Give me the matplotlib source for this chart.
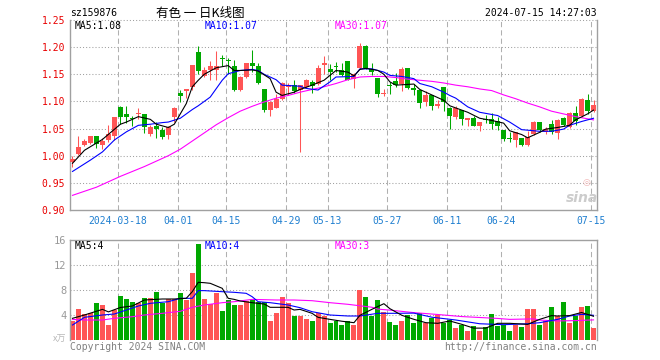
import matplotlib
matplotlib.use("Agg")
import matplotlib.pyplot as plt
import numpy as np
import pandas as pd

# trading days shown (exchange holidays removed)
holidays = ["2024-04-04", "2024-04-05", "2024-05-01", "2024-05-02", "2024-05-03", "2024-06-10"]
days = pd.bdate_range("2024-03-06", "2024-07-15")
days = days[~days.isin(pd.to_datetime(holidays))]

opens = [0.988, 1.003, 1.019, 1.024, 1.036, 1.020, 1.0288, 1.036, 1.090, 1.0765,
         1.069, 1.0765, 1.0765, 1.0398, 1.054, 1.048, 1.0373, 1.0704, 1.1156, 1.120,
         1.1266, 1.1914, 1.146, 1.157, 1.158, 1.179, 1.177, 1.166, 1.1217, 1.145,
         1.1706, 1.166, 1.1223, 1.0838, 1.0887, 1.1052, 1.126, 1.1297, 1.1205, 1.1266,
         1.1358, 1.1315, 1.1676, 1.1596, 1.1645, 1.157, 1.174, 1.142, 1.1615, 1.2018,
         1.160, 1.1437, 1.113, 1.130, 1.1376, 1.1327, 1.1615, 1.1254, 1.1205, 1.099,
         1.1113, 1.0918, 1.1266, 1.0887, 1.0704, 1.0843, 1.066, 1.070, 1.0555, 1.067,
         1.0675, 1.0633, 1.0476, 1.0320, 1.0284, 1.0326, 1.0193, 1.0404, 1.0615, 1.0446,
         1.0585, 1.0422, 1.0687, 1.0524, 1.0783, 1.0735, 1.1024, 1.083]
highs = [0.9994, 1.0367, 1.030, 1.037, 1.037, 1.032, 1.057, 1.0716, 1.091, 1.091,
         1.074, 1.088, 1.077, 1.056, 1.062, 1.053, 1.0545, 1.089, 1.1205, 1.1223,
         1.168, 1.203, 1.163, 1.174, 1.193, 1.186, 1.180, 1.1755, 1.146, 1.171,
         1.195, 1.170, 1.1223, 1.100, 1.114, 1.136, 1.134, 1.140, 1.131, 1.141,
         1.1395, 1.167, 1.183, 1.169, 1.1725, 1.1706, 1.175, 1.153, 1.2073, 1.2037,
         1.1706, 1.144, 1.123, 1.136, 1.152, 1.163, 1.1615, 1.133, 1.121, 1.119,
         1.112, 1.102, 1.127, 1.089, 1.091, 1.085, 1.069, 1.0735, 1.063, 1.075,
         1.0795, 1.0705, 1.048, 1.0434, 1.0434, 1.033, 1.0464, 1.0645, 1.063, 1.0536,
         1.0657, 1.067, 1.072, 1.0807, 1.0916, 1.1054, 1.1145, 1.1026]
lows = [0.9786, 1.001, 1.017, 1.022, 1.0134, 1.0125, 1.026, 1.029, 1.059, 1.0606,
        1.054, 1.068, 1.041, 1.037, 1.032, 1.030, 1.030, 1.0624, 1.099, 1.107,
        1.1217, 1.151, 1.145, 1.139, 1.139, 1.165, 1.150, 1.119, 1.120, 1.143,
        1.154, 1.133, 1.0807, 1.0728, 1.087, 1.1034, 1.111, 1.115, 1.007, 1.125,
        1.1156, 1.130, 1.151, 1.139, 1.154, 1.146, 1.139, 1.125, 1.160, 1.160,
        1.148, 1.108, 1.1107, 1.113, 1.1266, 1.119, 1.122, 1.111, 1.087, 1.0918,
        1.0838, 1.088, 1.0826, 1.050, 1.068, 1.0567, 1.0555, 1.0555, 1.0464, 1.061,
        1.0494, 1.048, 1.0266, 1.0254, 1.0163, 1.0175, 1.018, 1.0386, 1.0434, 1.040,
        1.040, 1.0314, 1.0543, 1.0506, 1.0567, 1.072, 1.0765, 1.080]
closes = [0.9945, 1.0165, 1.0275, 1.036, 1.0213, 1.0275, 1.0396, 1.0716, 1.0716, 1.0704,
          1.067, 1.078, 1.053, 1.053, 1.050, 1.035, 1.052, 1.0887, 1.1095, 1.1223,
          1.1676, 1.156, 1.158, 1.165, 1.1645, 1.1775, 1.175, 1.1205, 1.145, 1.1706,
          1.1657, 1.1345, 1.0838, 1.099, 1.1052, 1.134, 1.131, 1.119, 1.1297, 1.140,
          1.128, 1.162, 1.1706, 1.1547, 1.1633, 1.148, 1.140, 1.151, 1.2018, 1.162,
          1.154, 1.1144, 1.115, 1.128, 1.1297, 1.160, 1.1254, 1.1217, 1.0979, 1.1113,
          1.0918, 1.096, 1.099, 1.0734, 1.0887, 1.0675, 1.069, 1.0555, 1.0627, 1.066,
          1.0585, 1.0555, 1.0314, 1.0314, 1.0434, 1.0193, 1.0344, 1.0615, 1.0482, 1.0494,
          1.0446, 1.0663, 1.0567, 1.0795, 1.0645, 1.1036, 1.0825, 1.093]
volumes = [3.0, 5.0, 4.15, 4.27, 5.97, 5.6, 2.45, 4.8, 7.05, 6.6,
           6.1, 5.97, 6.72, 6.72, 7.68, 6.0, 6.6, 6.5, 7.5, 6.45,
           10.77, 15.36, 6.58, 5.73, 7.5, 4.64, 6.4, 5.6, 5.6, 6.22,
           6.35, 6.08, 6.08, 3.09, 4.32, 6.88, 5.97, 3.9, 3.9, 3.3,
           3.09, 4.4, 3.84, 2.77, 3.04, 2.45, 3.04, 2.45, 7.95, 6.88,
           3.84, 6.4, 4.48, 2.88, 2.45, 3.04, 4.0, 2.67, 4.27, 2.72,
           3.57, 3.95, 2.72, 3.2, 1.97, 2.4, 1.44, 2.24, 1.44, 2.13,
           4.1, 2.24, 2.35, 1.44, 2.35, 2.13, 5.0, 5.0, 2.45, 3.04,
           5.33, 3.84, 6.08, 2.67, 3.84, 5.33, 5.44, 1.97]

# moving average lines (day index, value)
ma5_days = [0, 2, 5, 8, 9, 11, 13, 14, 16, 17, 19, 20, 21, 22, 24, 26, 27, 28, 30, 31,
            33, 34, 35, 37, 38, 40, 42, 43, 44, 46, 47, 48, 49, 51, 52, 53, 54, 57, 58, 60,
            62, 63, 64, 66, 68, 70, 72, 73, 75, 76, 78, 79, 81, 83, 84, 86, 87]
ma5 = [0.986, 1.010, 1.030, 1.058, 1.062, 1.072, 1.067, 1.058, 1.052, 1.058,
       1.096, 1.127, 1.139, 1.150, 1.162, 1.166, 1.157, 1.157, 1.158, 1.156,
       1.142, 1.117, 1.111, 1.117, 1.122, 1.130, 1.139, 1.148, 1.157, 1.154,
       1.147, 1.159, 1.161, 1.157, 1.150, 1.136, 1.130, 1.132, 1.122, 1.112,
       1.102, 1.092, 1.088, 1.080, 1.069, 1.065, 1.060, 1.046, 1.039, 1.033,
       1.043, 1.049, 1.052, 1.056, 1.066, 1.077, 1.084]
ma10_days = [0, 3, 5, 7, 9, 11, 13, 15, 16, 18, 20, 21, 23, 25, 26, 28, 30, 31, 32, 34,
             35, 38, 39, 41, 43, 44, 47, 48, 50, 52, 53, 55, 57, 58, 60, 62, 63, 64, 66, 68,
             71, 73, 75, 77, 78, 80, 82, 83, 85, 87]
ma10 = [0.971, 0.992, 1.007, 1.029, 1.044, 1.056, 1.058, 1.061, 1.062, 1.069,
        1.085, 1.092, 1.108, 1.139, 1.151, 1.157, 1.159, 1.157, 1.150, 1.140,
        1.130, 1.128, 1.124, 1.121, 1.136, 1.145, 1.146, 1.160, 1.160, 1.154,
        1.148, 1.146, 1.142, 1.133, 1.127, 1.117, 1.111, 1.106, 1.090, 1.080,
        1.074, 1.062, 1.048, 1.046, 1.045, 1.045, 1.049, 1.056, 1.063, 1.069]
ma30_days = [0, 4, 8, 12, 16, 18, 20, 22, 24, 26, 28, 30, 32, 34, 36, 38, 40, 42, 44, 46,
             48, 50, 52, 54, 56, 58, 60, 62, 64, 66, 68, 70, 72, 74, 76, 78, 80, 82, 84, 86, 87]
ma30 = [0.927, 0.942, 0.962, 0.980, 1.000, 1.012, 1.027, 1.042, 1.057, 1.070,
        1.082, 1.091, 1.099, 1.106, 1.111, 1.117, 1.122, 1.127, 1.133, 1.140,
        1.145, 1.146, 1.146, 1.144, 1.141, 1.139, 1.137, 1.134, 1.130, 1.127,
        1.123, 1.120, 1.112, 1.105, 1.097, 1.090, 1.082, 1.077, 1.072, 1.068, 1.066]

vma5_days = [0, 2, 5, 6, 8, 10, 12, 15, 17, 19, 20, 21, 22, 23, 25, 26, 27, 28, 30, 32,
             33, 36, 37, 38, 40, 41, 43, 45, 47, 48, 50, 52, 53, 55, 57, 59, 61, 63, 65, 67,
             69, 71, 73, 76, 78, 80, 81, 83, 85, 87]
vma5 = [3.47, 4.0, 4.9, 4.5, 5.2, 5.44, 6.4, 6.56, 6.56, 6.67,
        7.73, 9.23, 9.17, 9.07, 8.27, 6.67, 6.5, 6.24, 5.97, 5.76,
        5.23, 5.23, 4.8, 4.9, 4.27, 3.63, 3.3, 3.0, 2.77, 3.95,
        4.91, 5.81, 5.01, 3.95, 3.31, 2.77, 2.67, 3.04, 2.51, 1.9,
        1.9, 2.67, 2.67, 2.5, 3.3, 3.9, 3.84, 3.9, 4.4, 3.8]
vma10_days = [0, 2, 5, 7, 9, 11, 13, 16, 18, 20, 21, 22, 25, 27, 29, 30, 31, 33, 36, 38,
              40, 43, 46, 48, 51, 54, 57, 60, 64, 68, 72, 76, 78, 81, 83, 85, 87]
vma10 = [2.4, 3.63, 4.0, 4.16, 4.8, 5.44, 5.87, 6.13, 6.67, 6.67,
         7.9, 7.9, 7.73, 7.63, 7.47, 6.93, 6.13, 5.97, 5.6, 5.17,
         4.53, 4.0, 3.84, 3.84, 4.27, 4.27, 4.3, 3.65, 3.2, 2.6,
         2.45, 2.6, 2.77, 3.3, 3.84, 4.1, 3.95]
vma30_days = [0, 2, 5, 7, 10, 12, 15, 18, 20, 22, 25, 27, 30, 34, 37, 40, 43, 46, 50, 51,
              53, 57, 61, 65, 71, 73, 77, 78, 81, 84, 87]
vma30 = [3.3, 3.2, 3.2, 3.47, 3.73, 4.0, 4.27, 4.59, 5.23, 5.6,
         5.97, 6.13, 6.5, 6.4, 6.4, 6.29, 5.97, 5.71, 5.24, 4.94,
         4.78, 4.38, 4.08, 3.75, 3.45, 3.3, 3.38, 3.19, 3.05, 3.1, 3.22]

tick_dates = ["2024-03-18", "2024-04-01", "2024-04-15", "2024-04-29", "2024-05-13",
              "2024-05-27", "2024-06-11", "2024-06-24", "2024-07-15"]
price_ticks = [0.90, 0.95, 1.00, 1.05, 1.10, 1.15, 1.20, 1.25]
vol_ticks = [4, 8, 12, 16]

W, H = 660, 360
UP, DOWN = "#ff5555", "#00a800"
MONO = "DejaVu Sans Mono"
CJK = ["Noto Sans CJK SC", "DejaVu Sans"]
BAR_W = 5 / 6
MID = 2.5 / 6


def px_axes(fig, left, top, right, bottom):
  return fig.add_axes([left / W, 1 - bottom / H, (right - left) / W, (bottom - top) / H])


def ftext(fig, x, y, s, **kw):
  kw.setdefault("family", MONO)
  kw.setdefault("fontsize", 7)
  kw.setdefault("va", "center")
  fig.text(x / W, 1 - y / H, s, **kw)


def frame(ax):
  for side in ["left", "right", "bottom", "top"]:
    ax.spines[side].set_color("#a0a0a0")
    ax.spines[side].set_linewidth(1)


if __name__ == "__main__":
  n = len(days)
  x = np.arange(n)
  o, h, l, c = map(np.array, (opens, highs, lows, closes))
  colors = np.where(c >= o, UP, DOWN)
  tick_idx = [days.get_loc(pd.Timestamp(d)) for d in tick_dates]
  tick_labels = [tick_dates[0]] + [d[5:] for d in tick_dates[1:]]

  fig = plt.figure(figsize=(W / 100, H / 100), dpi=100)
  ax = px_axes(fig, 70, 20, 597, 210)
  vax = px_axes(fig, 70, 240, 597, 340)

  # price panel
  for v in price_ticks[1:]:
    ax.axhline(v, color="#a0a0a0", lw=0.75, ls=(0, (1, 2)), zorder=1, clip_on=False)
  for t in tick_idx:
    ax.axvline(t, color="#b0b0b0", lw=0.75, ls=(0, (5, 3)), zorder=1)
    vax.axvline(t, color="#b0b0b0", lw=0.75, ls=(0, (5, 3)), zorder=1)

  ax.vlines(x + MID, l, h, colors=colors, lw=0.75, zorder=2)
  ax.bar(x, np.maximum(np.abs(c - o), 0.0019), width=BAR_W, bottom=np.minimum(o, c),
         align="edge", color=colors, linewidth=0, zorder=3)
  ax.plot(np.array(ma30_days) + MID, ma30, color="#ff00ff", lw=0.8, zorder=4)
  ax.plot(np.array(ma10_days) + MID, ma10, color="#0000ff", lw=0.8, zorder=4)
  ax.plot(np.array(ma5_days) + MID, ma5, color="black", lw=0.8, zorder=4)

  ax.set_xlim(0, n)
  ax.set_ylim(0.90, 1.25)
  ax.set_yticks(price_ticks)
  ax.set_yticklabels(["%.2f" % v for v in price_ticks], family=MONO, fontsize=7, color="#e80000")
  ax.set_xticks(tick_idx)
  ax.set_xticklabels(tick_labels, family=MONO, fontsize=7, color="#1f7fd0")
  ax.tick_params(length=0)
  ax.tick_params(axis="y", pad=3.5)
  ax.tick_params(axis="x", pad=4.5)
  frame(ax)
  ax.spines["top"].set_visible(False)

  # volume panel
  for v in vol_ticks[:-1]:
    vax.axhline(v, color="#a0a0a0", lw=0.75, ls=(0, (1, 2)), zorder=1)
  vax.bar(x, volumes, width=BAR_W, align="edge", color=colors, linewidth=0, zorder=2)
  vax.plot(np.array(vma30_days) + MID, vma30, color="#ff00ff", lw=0.8, zorder=4)
  vax.plot(np.array(vma10_days) + MID, vma10, color="#0000ff", lw=0.8, zorder=4)
  vax.plot(np.array(vma5_days) + MID, vma5, color="black", lw=0.8, zorder=4)
  vax.set_xlim(0, n)
  vax.set_ylim(0, 16)
  vax.set_yticks(vol_ticks)
  vax.set_yticklabels([str(v) for v in vol_ticks], family=MONO, fontsize=7.5, color="#999999")
  vax.set_xticks([])
  vax.tick_params(length=0, pad=2.5)
  frame(vax)
  vax.spines["bottom"].set_visible(False)

  # header and labels
  ftext(fig, 70, 13, "sz159876")
  ftext(fig, 200, 13, "有色 一 日K线图", family=CJK, fontsize=9, ha="center")
  ftext(fig, 597, 13, "2024-07-15 14:27:03", ha="right")
  ftext(fig, 75, 26, "MA5:%.2f" % ma5[-1], color="black")
  ftext(fig, 205, 26, "MA10:%.2f" % ma10[-1], color="#0000ff")
  ftext(fig, 335, 26, "MA30:%.2f" % ma30[-1], color="#ff00ff")
  ftext(fig, 75, 246, "MA5:%.0f" % vma5[-1], color="black")
  ftext(fig, 205, 246, "MA10:%.0f" % vma10[-1], color="#0000ff")
  ftext(fig, 335, 246, "MA30:%.0f" % vma30[-1], color="#ff00ff")
  ftext(fig, 66, 339, "x万", family=CJK, fontsize=6.5, color="#b8b8b8", ha="right")
  ftext(fig, 70, 347, "Copyright 2024 SINA.COM", color="#808080")
  ftext(fig, 597, 347, "http://finance.sina.com.cn", color="#808080", ha="right")
  # faint sina watermark
  ftext(fig, 582, 198, "sina", family="DejaVu Sans", fontsize=10, style="italic",
        weight="bold", color="#cccccc", ha="center")
  ftext(fig, 586, 183, "◎", family="DejaVu Sans", fontsize=6.5, color="#f2b8b8", ha="center")

  fig.savefig("out.png", dpi=100)
